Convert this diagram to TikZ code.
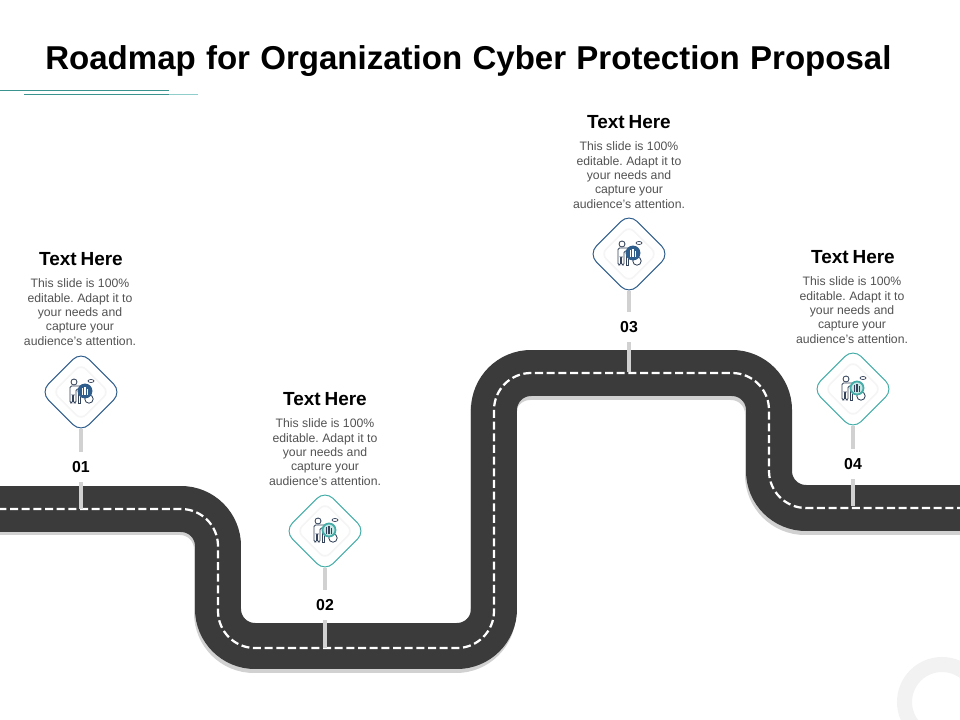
\documentclass[tikz,border=0pt]{standalone}
\usepackage{fontspec}
\setmainfont{Liberation Sans}
\usetikzlibrary{shapes.geometric}

\definecolor{roadgray}{HTML}{3B3B3B}
\definecolor{signblue}{HTML}{2F5D8C}
\definecolor{signteal}{HTML}{45ADA8}
\definecolor{icondark}{HTML}{34435A}

\newcommand{\headfont}{\bfseries\fontsize{13.5}{15}\selectfont\spaceskip=0.2em\relax}

\tikzset{
    road/.style={line width=32.7pt,rounded corners=0.925cm},
    sign/.style={draw=#1,fill=white,diamond,aspect=1,minimum size=58pt,inner sep=0pt,rounded corners=8pt,line width=0.7pt},
    post/.style={line width=3.4pt,color=black!18},
    signpost/.style={post,shorten <=-3pt},
    num/.style={font=\bfseries\fontsize{11.3}{13}\selectfont,minimum height=21pt,inner sep=0pt},
    head/.style={font=\headfont},
    body/.style={font=\frenchspacing\fontsize{8.7}{10.2}\selectfont,align=center,color=black!68,inner sep=0pt},
    pics/signicon/.style n args={3}{code={
        \node[diamond,aspect=1,draw=black!4,line width=1.2pt,minimum size=40pt,inner sep=0pt,rounded corners=5pt] (-inner) at (0,0) {};
        \draw[icondark,line width=0.6pt,fill=white] (-7,-10) circle[radius=3];
        \draw[icondark,line width=0.6pt,fill=white,rounded corners=1pt] (-11,-1) -- (-11,-6) -- (-4,-6) -- (3,-6) -- (3,-3) -- (-5,-3) -- (-5,11) -- (-7.5,11) -- (-7.5,3) -- (-8.5,3) -- (-8.5,11) -- (-11,11) -- cycle;
        \draw[icondark,line width=0.6pt] (-3,1) -- (-3,11) -- (-1,11) -- (-1,5);
        \draw[icondark,line width=0.6pt,fill=white] (8,7) circle[radius=4.2];
        \draw[icondark,line width=0.5pt,fill=white] (10,-11) ellipse[x radius=3,y radius=1.5];
        \draw[#1,line width=1.3pt,fill=#2] (4,-1) circle[radius=6.5];
        \draw[#3,line width=0.9pt] (1.5,3) -- (1.5,-4) (4,3) -- (4,-5) (6.5,3) -- (6.5,-3);
    }}
}

\begin{document}
\begin{tikzpicture}[x=0.025cm,y=-0.025cm]

    \clip (0,0) rectangle (960,720);

    % ring in the corner
    \draw[color=black!5,line width=10.7pt] (942,702) circle[radius=37.5];

    % title and the two lines below it
    \node[anchor=west,inner sep=0pt] (title) at (45,61) {\bfseries\fontsize{23.5}{27}\selectfont\spaceskip=0.31em\relax Roadmap for Organization Cyber Protection Proposal};
    \draw[color=signteal!85!black,line width=0.6pt] (0,90) -- (169,90);
    \draw[color=signteal!85!black,line width=0.6pt] (24,94) -- (169,94);
    \draw[color=signteal!60!white,line width=0.5pt] (169,94) -- (198,94);

    % road
    \draw[road,color=black!18] (-60,512) -- (217,512) -- (217,650) -- (493,650) -- (493,377) -- (768,377) -- (768,512) -- (1020,512);
    \draw[road,color=roadgray] (-60,509) -- (218,509) -- (218,646) -- (494,646) -- (494,373) -- (769,373) -- (769,508) -- (1020,508);
    \draw[color=white,line width=1.6pt,dash pattern=on 5.7pt off 2.6pt,rounded corners=0.925cm] (-60,509) -- (218,509) -- (218,648) -- (494,648) -- (494,373) -- (769,373) -- (769,508) -- (1020,508);

    % signs
    \node[sign=signblue] (sign1) at (81,392) {};
    \node[sign=signteal] (sign2) at (325,531) {};
    \node[sign=signblue] (sign3) at (629,254) {};
    \node[sign=signteal] (sign4) at (853,389) {};
    \pic (icon1) at (81,392) {signicon={signblue}{signblue}{white}};
    \pic (icon2) at (325,531) {signicon={signteal}{signteal!30!white}{icondark}};
    \pic (icon3) at (629,254) {signicon={signblue}{signblue}{white}};
    \pic (icon4) at (853,389) {signicon={signteal}{signteal!30!white}{icondark}};

    % numbers and posts
    \node[num] (num1) at (81,467) {01};
    \node[num] (num2) at (325,605) {02};
    \node[num] (num3) at (629,327) {03};
    \node[num] (num4) at (853,464) {04};
    \coordinate (foot1) at (81,509);
    \coordinate (foot2) at (325,648);
    \coordinate (foot3) at (629,372);
    \coordinate (foot4) at (853,506);
    \draw[signpost] (sign1.south) -- (num1.north);
    \draw[post] (num1.south) -- (foot1);
    \draw[signpost] (sign2.south) -- (num2.north);
    \draw[post] (num2.south) -- (foot2);
    \draw[signpost] (sign3.south) -- (num3.north);
    \draw[post] (num3.south) -- (foot3);
    \draw[signpost] (sign4.south) -- (num4.north);
    \draw[post] (num4.south) -- (foot4);

    % texts
    \node[head] (head1) at (81,259) {Text Here};
    \node[body] (body1) at (80,312) {This slide is 100\%\\editable. Adapt it to\\your needs and\\capture your\\audience's attention.};
    \node[head] (head2) at (325,399) {Text Here};
    \node[body] (body2) at (325,452) {This slide is 100\%\\editable. Adapt it to\\your needs and\\capture your\\audience's attention.};
    \node[head] (head3) at (629,122) {Text Here};
    \node[body] (body3) at (629,175) {This slide is 100\%\\editable. Adapt it to\\your needs and\\capture your\\audience's attention.};
    \node[head] (head4) at (853,257) {Text Here};
    \node[body] (body4) at (852,310) {This slide is 100\%\\editable. Adapt it to\\your needs and\\capture your\\audience's attention.};

\end{tikzpicture}
\end{document}
